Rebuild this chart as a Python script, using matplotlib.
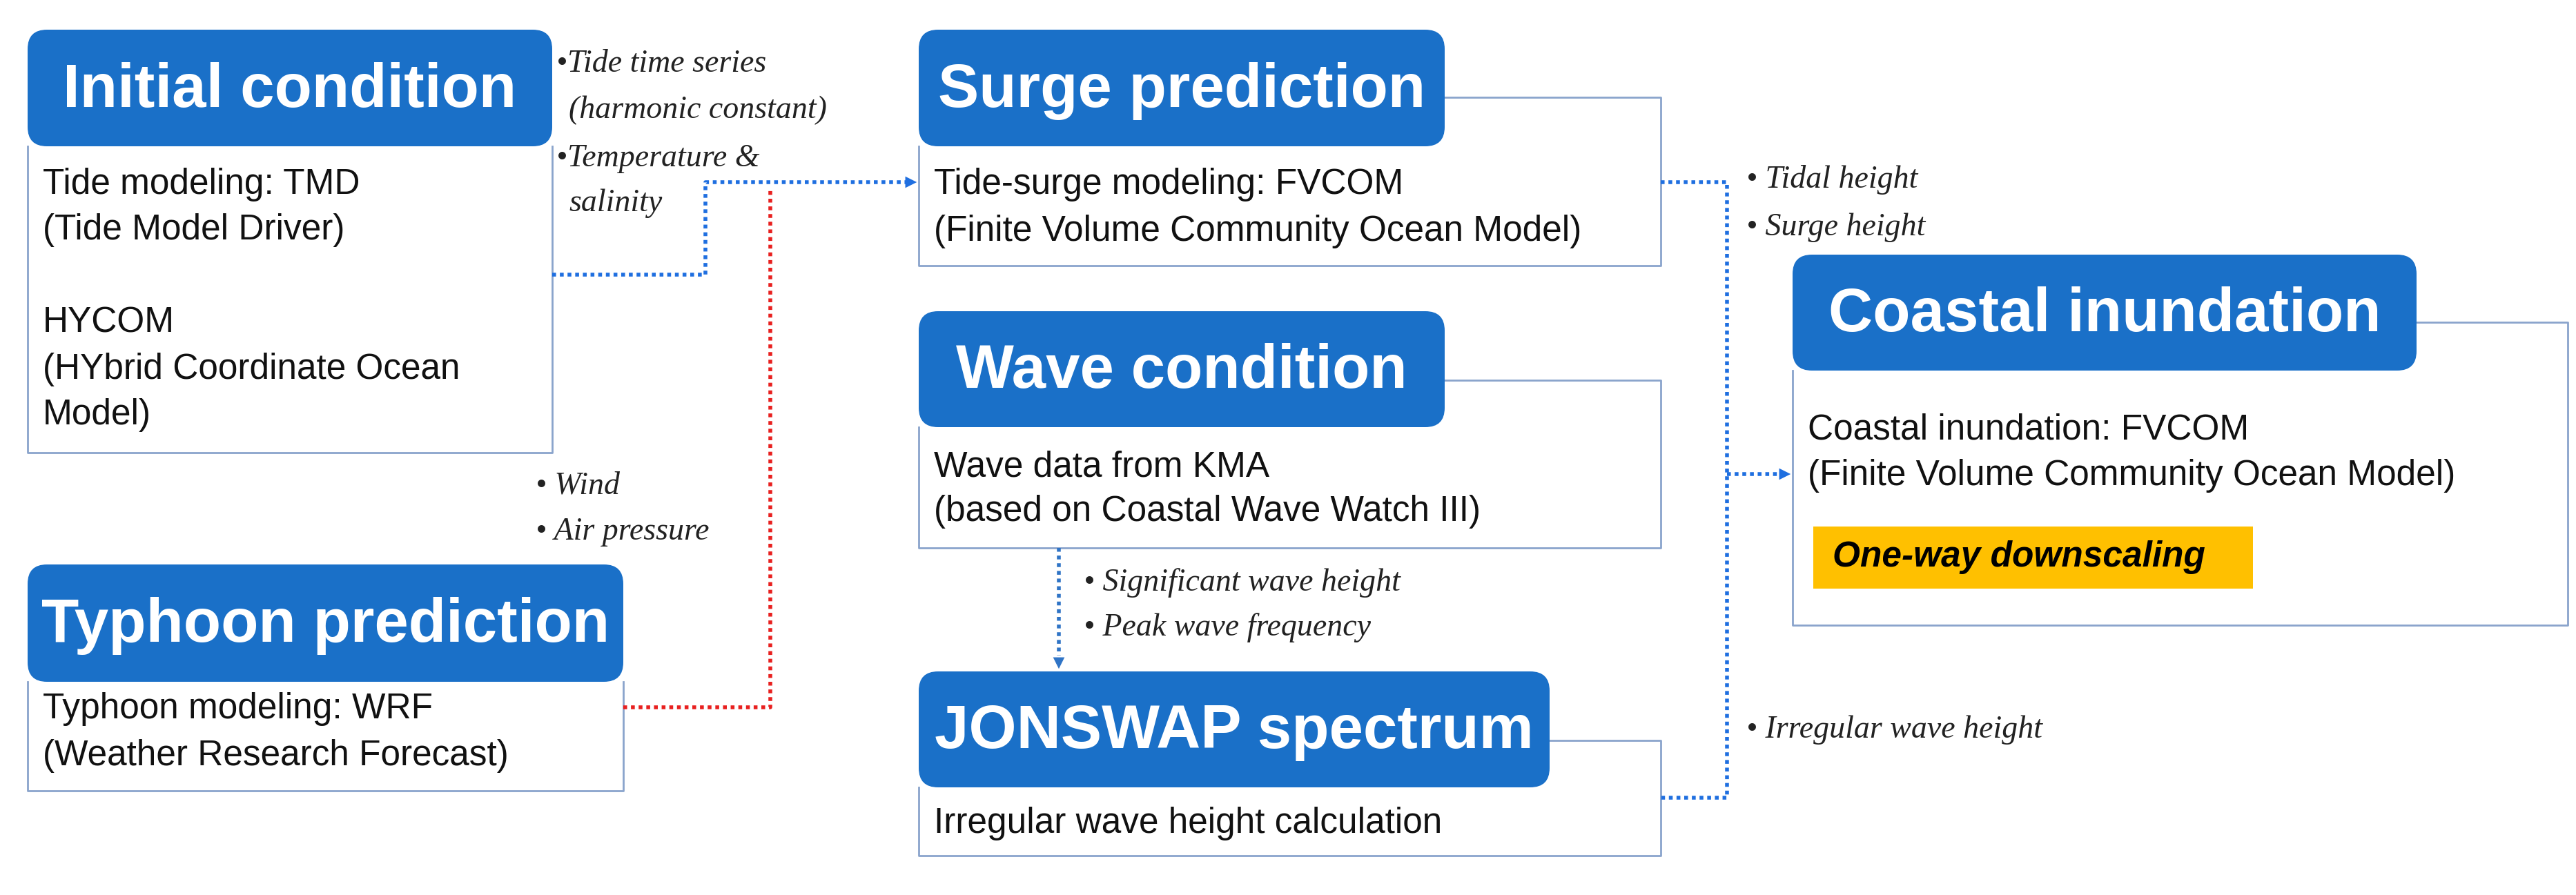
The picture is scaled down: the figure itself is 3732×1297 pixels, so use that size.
import matplotlib
matplotlib.use("Agg")
import matplotlib.pyplot as plt
from matplotlib.patches import FancyBboxPatch, Rectangle

W, H = 3732, 1297
SANS = ["Liberation Sans Narrow", "Liberation Sans", "DejaVu Sans"]
SERIF = ["Liberation Serif", "DejaVu Serif"]
HEAD_BLUE = "#1a70c8"
FRAME = "#8aa4cc"

titles = ["Initial condition", "Typhoon prediction", "Surge prediction",
          "Wave condition", "JONSWAP spectrum", "Coastal inundation"]
bodies = [
    ["Tide modeling: TMD", "(Tide Model Driver)", "", "HYCOM",
     "(HYbrid Coordinate Ocean", "Model)"],
    ["Typhoon modeling: WRF", "(Weather Research Forecast)"],
    ["Tide-surge modeling: FVCOM", "(Finite Volume Community Ocean Model)"],
    ["Wave data from KMA", "(based on Coastal Wave Watch III)"],
    ["Irregular wave height calculation"],
    ["Coastal inundation: FVCOM", "(Finite Volume Community Ocean Model)"],
]
highlight = "One-way downscaling"
notes_tide = ["\u2022Tide time series", "(harmonic constant)", "\u2022Temperature &", "salinity"]
notes_wind = ["\u2022 Wind", "\u2022 Air pressure"]
notes_surge = ["\u2022 Tidal height", "\u2022 Surge height"]
notes_wave = ["\u2022 Significant wave height", "\u2022 Peak wave frequency"]
notes_irreg = ["\u2022 Irregular wave height"]

# layout: header (x0, x1, y0, y1), frame (top, right, bottom), body first line y, line step
layout = [
    ((40, 800, 43, 212), (212, 800, 656), 267, 67),
    ((40, 903, 818, 988), (988, 903, 1146), 1027, 69),
    ((1331, 2093, 43, 212), (141, 2406, 385), 267, 68),
    ((1331, 2093, 451, 619), (551, 2406, 794), 677, 65),
    ((1331, 2245, 973, 1141), (1073, 2406, 1240), 1193, 65),
    ((2597, 3501, 369, 537), (467, 3720, 906), 623, 66),
]

fig = plt.figure(figsize=(W / 100, H / 100), dpi=100)
ax = fig.add_axes([0, 0, 1, 1])
ax.set_xlim(0, W)
ax.set_ylim(H, 0)
ax.axis("off")

for title, body, ((x0, x1, y0, y1), (ft, fr, fb), ly, step) in zip(titles, bodies, layout):
    # outer frame
    ax.plot([x1, fr, fr, x0, x0], [ft, ft, fb, fb, y1], color=FRAME, lw=2, zorder=1)
    ax.add_patch(FancyBboxPatch((x0, y0), x1 - x0, y1 - y0,
                                boxstyle="round,pad=0,rounding_size=28",
                                fc=HEAD_BLUE, ec="none", zorder=2))
    ax.text((x0 + x1) / 2, (y0 + y1) / 2 + 4, title, color="white", fontsize=64,
            fontweight="bold", ha="center", va="center", family=SANS, zorder=3)
    for i, line in enumerate(body):
        ax.text(x0 + 22, ly + i * step, line, fontsize=37, ha="left", va="center",
                family=SANS, color="#111111", zorder=3)

# highlight tag
ax.add_patch(Rectangle((2627, 763), 637, 90, fc="#ffc000", ec="none", zorder=2))
ax.text(2655, 808, highlight, fontsize=37, fontweight="bold", style="italic",
        ha="left", va="center", family=SANS, zorder=3)

dot = dict(lw=4, linestyle=(0, (1, 1)), zorder=1)
blue = "#1f6fe0"
# initial -> surge
ax.plot([800, 1022, 1022, 1315], [398, 398, 264, 264], color=blue, **dot)
ax.annotate("", xy=(1331, 264), xytext=(1300, 264),
            arrowprops=dict(arrowstyle="-|>,head_length=1.2,head_width=0.6", color=blue, lw=0))
# typhoon -> surge (red)
ax.plot([903, 1116, 1116], [1025, 1025, 275], color="#e8201f", **dot)
# surge / jonswap -> coastal
ax.plot([2406, 2502, 2502, 2406], [264, 264, 1156, 1156], color=blue, **dot)
ax.plot([2502, 2575], [687, 687], color=blue, **dot)
ax.annotate("", xy=(2597, 687), xytext=(2565, 687),
            arrowprops=dict(arrowstyle="-|>,head_length=1.2,head_width=0.6", color=blue, lw=0))
# wave -> jonswap
ax.plot([1534, 1534], [794, 950], color="#2f74c6", **dot)
ax.annotate("", xy=(1534, 972), xytext=(1534, 940),
            arrowprops=dict(arrowstyle="-|>,head_length=1.2,head_width=0.6", color="#2f74c6", lw=0))

note = dict(fontsize=33, style="italic", ha="left", va="center", family=SERIF, color="#222222")
for txt, (x, y) in zip(notes_tide, [(806, 93), (824, 160), (806, 230), (824, 295)]):
    ax.text(x, y, txt, **note)
for txt, y in zip(notes_wind, [704, 771]):
    ax.text(776, y, txt, **note)
for txt, y in zip(notes_surge, [261, 330]):
    ax.text(2530, y, txt, **note)
for txt, y in zip(notes_wave, [845, 910]):
    ax.text(1570, y, txt, **note)
for txt, y in zip(notes_irreg, [1058]):
    ax.text(2530, y, txt, **note)

fig.savefig("out.png", dpi=100, facecolor="white")
